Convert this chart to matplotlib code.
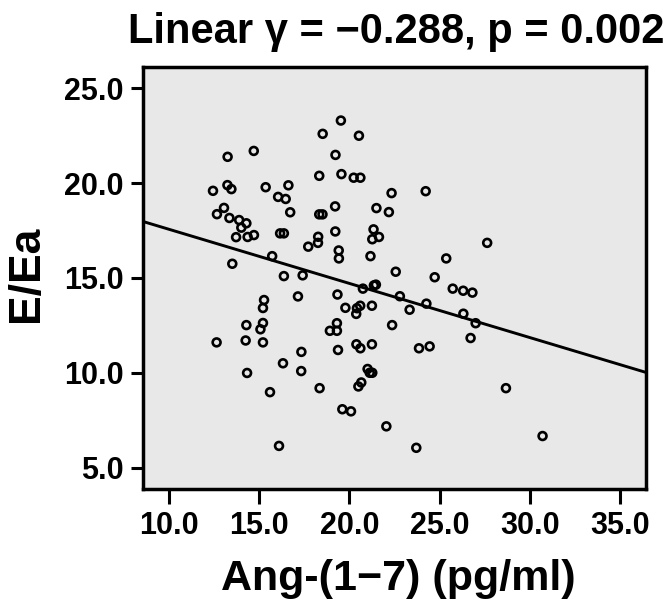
import numpy as np
import matplotlib
matplotlib.use("Agg")
from matplotlib import pyplot as plt

params = {
    'font.family': ['Liberation Sans', 'DejaVu Sans'],
    'font.weight': 'bold',
    'axes.linewidth': 2.5,
}
matplotlib.rcParams.update(params)

# Ang-(1-7) (pg/ml) vs E/Ea
ang17 = [19.53, 18.52, 20.53, 14.70, 13.25, 19.23, 18.33, 19.56, 20.24, 20.61,
         12.44, 13.24, 13.46, 15.36, 16.62, 16.05, 16.47, 22.34, 24.23, 13.05,
         12.66, 13.35, 16.72, 19.21, 21.50, 22.19, 18.33, 18.51, 13.89, 14.29,
         14.01, 13.72, 14.36, 14.71, 16.16, 16.37, 18.27, 18.26, 17.72, 19.22,
         21.34, 21.27, 21.64, 19.41, 19.42, 21.17, 27.64, 25.37, 13.51, 15.72,
         22.57, 24.73, 16.37, 17.41, 21.36, 21.47, 20.75, 25.73, 26.31, 26.82,
         22.80, 17.15, 19.34, 24.27, 23.34, 19.78, 20.60, 20.42, 20.38, 21.25,
         26.32, 27.00, 22.37, 26.72, 15.27, 15.21, 15.21, 15.07, 14.29, 19.31,
         18.92, 19.31, 12.64, 14.25, 15.21, 17.34, 16.32, 17.33, 14.33, 19.37,
         20.39, 20.61, 21.25, 23.86, 24.45, 21.01, 21.13, 21.27, 20.66, 20.50,
         15.60, 18.35, 28.68, 19.61, 20.09, 22.05, 16.10, 23.71, 30.71]
e_ea = [23.29, 22.59, 22.49, 21.69, 21.38, 21.48, 20.38, 20.47, 20.28, 20.28,
        19.59, 19.89, 19.68, 19.78, 19.88, 19.27, 19.16, 19.47, 19.57, 18.69,
        18.36, 18.16, 18.46, 18.77, 18.68, 18.47, 18.35, 18.35, 18.05, 17.88,
        17.65, 17.15, 17.16, 17.26, 17.35, 17.35, 17.17, 16.85, 16.65, 17.45,
        17.56, 17.04, 17.16, 16.45, 16.03, 16.15, 16.85, 16.03, 15.75, 16.15,
        15.33, 15.04, 15.10, 15.14, 14.61, 14.65, 14.44, 14.44, 14.33, 14.23,
        14.04, 14.03, 14.13, 13.65, 13.33, 13.43, 13.54, 13.41, 13.11, 13.54,
        13.12, 12.62, 12.52, 11.84, 13.84, 13.42, 12.63, 12.30, 12.52, 12.62,
        12.22, 12.22, 11.61, 11.71, 11.61, 11.11, 10.51, 10.10, 10.00, 11.21,
        11.51, 11.30, 11.51, 11.30, 11.40, 10.21, 10.01, 10.01, 9.50, 9.29,
        8.99, 9.20, 9.20, 8.09, 7.98, 7.19, 6.16, 6.06, 6.68]

x_ticks = [10, 15, 20, 25, 30, 35]
y_ticks = [5, 10, 15, 20, 25]
title = "Linear \u03b3 = \u22120.288, p = 0.002"

x = np.array(ang17)
y = np.array(e_ea)
slope, intercept = np.polyfit(x, y, 1)

fig = plt.figure(figsize=(6.67, 6.05), dpi=100)
ax = fig.add_axes([0.2144, 0.1917, 0.754, 0.6976])
ax.set_facecolor('#e8e8e8')

xlim = (8.56, 36.44)
ax.set_xlim(xlim)
ax.set_ylim(3.89, 26.11)

ax.scatter(x, y, s=32, facecolors='none', edgecolors='black',
           linewidths=1.9, zorder=3)
xl = np.array(xlim)
ax.plot(xl, intercept + slope * xl, color='black', lw=2.1, zorder=2)

ax.set_xticks(x_ticks)
ax.set_xticklabels([f"{v:.1f}" for v in x_ticks])
ax.set_yticks(y_ticks)
ax.set_yticklabels([f"{v:.1f}" for v in y_ticks])
ax.tick_params(direction='out', length=9, width=2.2, labelsize=22, pad=5)
ax.tick_params(axis='x', length=11)
for lab in ax.get_xticklabels() + ax.get_yticklabels():
    lab.set_fontweight('bold')

ax.set_xlabel("Ang-(1\u22127) (pg/ml)", fontsize=31, fontweight='bold')
ax.xaxis.set_label_coords(0.507, -0.165)
ax.set_ylabel("E/Ea", fontsize=32, fontweight='bold')
ax.yaxis.set_label_coords(-0.19, 0.51)

fig.text(0.594, 0.929, title, ha='center', va='baseline',
         fontsize=30, fontweight='bold')

plt.savefig("out.png", dpi=100)
